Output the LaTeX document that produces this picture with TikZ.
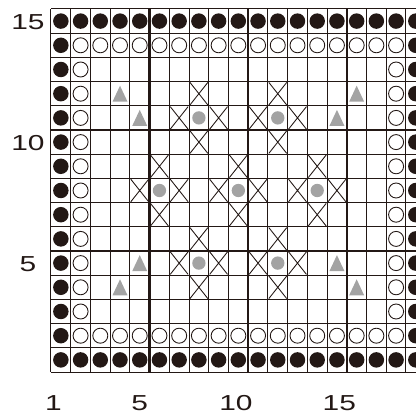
\documentclass[tikz,border=0pt]{standalone}
\usepackage{fontspec}
\setmainfont{Liberation Sans}
\usepackage{tikz}
\usetikzlibrary{shapes.misc}
\definecolor{boardink}{RGB}{35,24,21}
\definecolor{markgray}{RGB}{163,163,163}
\tikzset{
  thinline/.style={draw=boardink, line width=0.85pt},
  thickline/.style={draw=boardink, line width=1.9pt},
  blackstone/.style={fill=boardink},
  whitestone/.style={draw=boardink, fill=white, line width=0.75pt},
  crossmark/.style={cross out, draw=boardink, line width=0.75pt, inner sep=0,
    minimum width=0.51cm, minimum height=0.65cm}
}
\newcommand{\widenum}[1]{\scalebox{1.38}[1]{#1}}

\begin{document}
\begin{tikzpicture}[x=0.5916cm, y=0.726cm, every node/.style={font=\fontsize{18.5}{20}\selectfont, text=boardink}]
    \useasboundingbox (-2.586,-1.736) rectangle (18.509,15.372);
    \clip (-2.586,-1.736) rectangle (18.509,15.372);

        % Board grid
        \foreach \i in {0,...,19} \draw[thinline] (\i,0) -- (\i,15);
        \foreach \j in {0,...,15} \draw[thinline] (0,\j) -- (19,\j);
        \foreach \i in {5,10,15} \draw[thickline] (\i,0) -- (\i,15);
        \foreach \j in {5,10} \draw[thickline] (0,\j) -- (19,\j);

        % Outer ring - black stones
        \foreach \c in {1,...,19} {
            \fill[blackstone] (\c-0.5,0.5) circle[radius=0.232cm];
            \fill[blackstone] (\c-0.5,14.5) circle[radius=0.232cm];
        }
        \foreach \r in {2,...,14} {
            \fill[blackstone] (0.5,\r-0.5) circle[radius=0.232cm];
            \fill[blackstone] (18.5,\r-0.5) circle[radius=0.232cm];
        }

        % Inner ring - white stones
        \foreach \c in {2,...,18} {
            \draw[whitestone] (\c-0.5,1.5) circle[radius=0.225cm];
            \draw[whitestone] (\c-0.5,13.5) circle[radius=0.225cm];
        }
        \foreach \r in {3,...,13} {
            \draw[whitestone] (1.5,\r-0.5) circle[radius=0.225cm];
            \draw[whitestone] (17.5,\r-0.5) circle[radius=0.225cm];
        }

        % Gray points with crosses around them
        \foreach \c/\r in {8/11, 12/11, 6/8, 10/8, 14/8, 8/5, 12/5} {
            \fill[markgray] (\c-0.5,\r-0.5) circle[radius=0.2cm];
            \foreach \dc/\dr in {0/1, 0/-1, -1/0, 1/0}
                \node[crossmark] (x\c-\r-\dc-\dr) at (\c+\dc-0.5,\r+\dr-0.5) {};
        }

        % Gray triangles
        \foreach \c/\r in {4/12, 5/11, 16/12, 15/11, 5/5, 4/4, 15/5, 16/4}
            \fill[markgray] (\c-0.5,\r-0.5) ++(-0.225cm,-0.24cm) -- ++(0.45cm,0) -- ++(-0.225cm,0.48cm) -- cycle;

        % Row numbers
        \node (row15) at (-1.166,14.45) {\widenum{15}};
        \node (row10) at (-1.166,9.45) {\widenum{10}};
        \node (row5) at (-1.166,4.45) {\widenum{5}};

        % Column numbers
        \node (col1) at (0.12,-1.293) {\widenum{1}};
        \node (col5) at (4.5,-1.293) {\widenum{5}};
        \node (col10) at (9.38,-1.293) {\widenum{10}};
        \node (col15) at (14.62,-1.293) {\widenum{15}};
    \end{tikzpicture}
\end{document}
